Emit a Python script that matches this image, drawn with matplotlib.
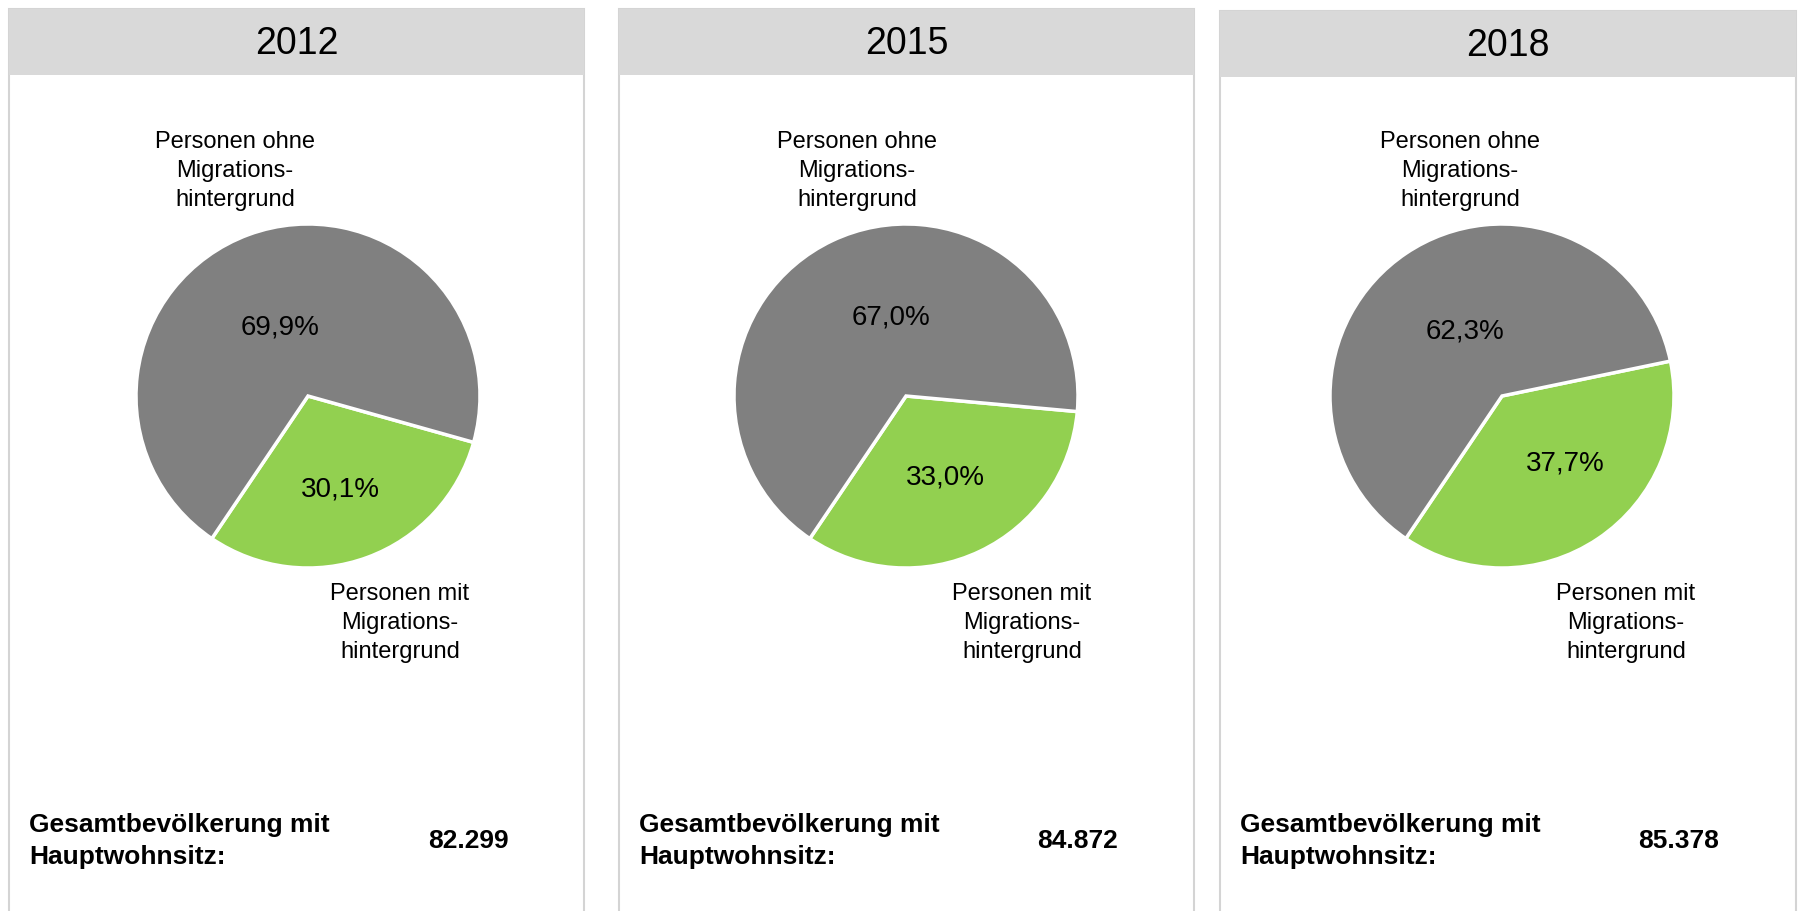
import numpy as np
import matplotlib
matplotlib.use('Agg')
import matplotlib.pyplot as plt
from matplotlib.patches import Rectangle

plt.rcParams['font.family'] = ['Liberation Sans', 'DejaVu Sans']

# data
YEARS = ['2012', '2015', '2018']
OHNE = [69.9, 67.0, 62.3]      # Personen ohne Migrationshintergrund, %
MIT = [30.1, 33.0, 37.7]       # Personen mit Migrationshintergrund, %
GESAMT = [82.299, 84.872, 85.378]
LABEL_OHNE = 'Personen ohne\nMigrations-\nhintergrund'
LABEL_MIT = 'Personen mit\nMigrations-\nhintergrund'
LABEL_GESAMT = 'Gesamtbevölkerung mit\nHauptwohnsitz:'

GREY = '#808080'
GREEN = '#92D050'
HEAD = '#D9D9D9'
BORDER = '#D4D4D4'

W, H = 1798, 911
PANEL_X = [(9, 584), (619, 1194), (1220, 1796)]
HEAD_TOP = [9, 9, 11]
HEAD_H = 66
PIE_CX = [308, 906, 1502]
PIE_CY = 396
R = 172
# label offsets from pie centre (px, y up)
OHNE_OFF = [(-73, 225), (-49, 225), (-42, 225)]
MIT_OFF = [(92, -227), (116, -227), (124, -227)]
PCT_OHNE_OFF = [(-28, 69), (-15, 79), (-37, 64)]
PCT_MIT_OFF = [(32, -93), (39, -81), (63, -68)]


def Y(y):
    return H - y


def fmt_pct(v):
    return ('%.1f' % v).replace('.', ',') + '%'


def main():
    fig = plt.figure(figsize=(W / 100, H / 100), dpi=100)
    ax = fig.add_axes([0, 0, 1, 1])

    for i in range(3):
        x0, x1 = PANEL_X[i]
        top = HEAD_TOP[i]
        # panel frame + header
        ax.add_patch(Rectangle((x0, Y(H + 10)), x1 - x0, H + 10 - top,
                               facecolor='white', edgecolor=BORDER, lw=1.5))
        ax.add_patch(Rectangle((x0, Y(top + HEAD_H)), x1 - x0, HEAD_H,
                               facecolor=HEAD, edgecolor='none'))
        ax.text((x0 + x1) / 2, Y(top + HEAD_H / 2 + 2), YEARS[i], fontsize=27,
                ha='center', va='center')

        cx, cy = PIE_CX[i], Y(PIE_CY)
        ax.pie([MIT[i], OHNE[i]], colors=[GREEN, GREY], startangle=-124,
               center=(cx, cy), radius=R, frame=True,
               wedgeprops=dict(edgecolor='white', linewidth=2.5))

        ax.text(cx + PCT_OHNE_OFF[i][0], cy + PCT_OHNE_OFF[i][1],
                fmt_pct(OHNE[i]), fontsize=20, ha='center', va='center')
        ax.text(cx + PCT_MIT_OFF[i][0], cy + PCT_MIT_OFF[i][1],
                fmt_pct(MIT[i]), fontsize=20, ha='center', va='center')

        ax.text(cx + OHNE_OFF[i][0], cy + OHNE_OFF[i][1], LABEL_OHNE,
                fontsize=17, ha='center', va='center', linespacing=1.4)
        ax.text(cx + MIT_OFF[i][0], cy + MIT_OFF[i][1], LABEL_MIT,
                fontsize=17, ha='center', va='center', linespacing=1.4)

        ax.text(x0 + 20, Y(841), LABEL_GESAMT, fontsize=19, fontweight='bold',
                ha='left', va='center', linespacing=1.4)
        ax.text(x0 + 459, Y(841), '%.3f' % GESAMT[i], fontsize=19,
                fontweight='bold', ha='center', va='center')

    ax.set_xlim(0, W)
    ax.set_ylim(0, H)
    ax.set_aspect('auto')
    ax.axis('off')
    fig.savefig('out.png', dpi=100)


if __name__ == '__main__':
    main()
